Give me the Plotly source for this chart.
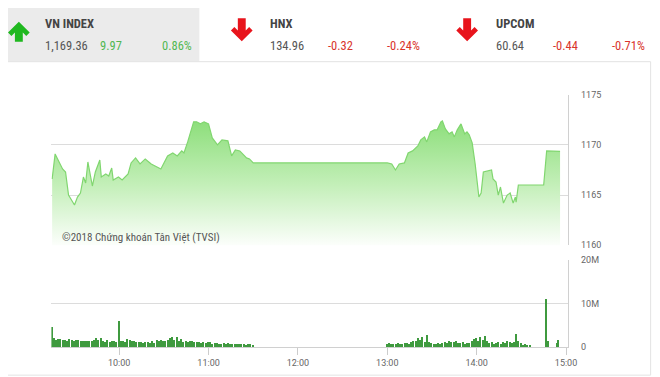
import plotly.graph_objects as go
import pandas as pd

W, H = 660, 377
DAY = "2018-09-20 "

# ---- price (VN-Index intraday) ----
price_times = ["09:15", "09:17", "09:22", "09:24", "09:26", "09:30", "09:32", "09:34", "09:36", "09:37:30",
               "09:39", "09:41", "09:42", "09:44", "09:47", "09:48", "09:51", "09:53", "09:55", "09:56",
               "09:59:30", "10:02", "10:04", "10:06", "10:08", "10:11", "10:14", "10:17:30", "10:21:30", "10:28",
               "10:32:30", "10:36", "10:39", "10:42", "10:43:30", "10:46", "10:50", "10:52", "10:54:30", "10:57",
               "11:00", "11:02:30", "11:06", "11:09", "11:13", "11:15:30", "11:18", "11:21", "11:25:30", "11:27:30",
               "11:30", "13:00", "13:03", "13:05:30", "13:08", "13:11:30", "13:14", "13:17", "13:20:30", "13:22:30",
               "13:25", "13:26:30", "13:29", "13:31:30", "13:33:30", "13:36", "13:37", "13:39", "13:41:30", "13:43:30",
               "13:45", "13:47", "13:49:30", "13:52", "13:53:30", "13:55", "13:57", "13:59", "14:01:30", "14:03",
               "14:04:30", "14:06:30", "14:08", "14:10", "14:11", "14:13", "14:14:30", "14:16", "14:18", "14:20:30",
               "14:22:30", "14:24:30", "14:26", "14:26:30", "14:28", "14:45", "14:47", "14:56"]
price_vals = [1166.6, 1169.1, 1167.6, 1167.3, 1165.0, 1164.0, 1164.8, 1165.2, 1166.8, 1166.2,
              1168.3, 1166.8, 1165.9, 1167.3, 1168.5, 1166.8, 1167.1, 1166.9, 1167.7, 1166.5,
              1166.8, 1166.5, 1166.8, 1167.1, 1168.2, 1168.7, 1168.1, 1168.6, 1168.1, 1167.6,
              1168.9, 1169.2, 1168.9, 1169.4, 1169.2, 1170.3, 1172.3, 1172.3, 1172.1, 1172.3,
              1172.1, 1170.7, 1170.0, 1170.5, 1170.4, 1168.9, 1169.5, 1169.4, 1168.7, 1168.6,
              1168.2, 1168.2, 1168.1, 1167.5, 1168.1, 1168.2, 1169.2, 1169.4, 1169.9, 1170.5,
              1170.8, 1170.3, 1171.3, 1171.5, 1171.5, 1172.3, 1172.4, 1171.6, 1171.1, 1171.3,
              1170.8, 1171.5, 1172.1, 1171.1, 1171.3, 1171.0, 1170.2, 1168.1, 1164.8, 1165.2,
              1167.3, 1167.4, 1167.4, 1167.5, 1166.6, 1166.3, 1165.0, 1165.8, 1164.2, 1165.0,
              1165.2, 1164.2, 1164.8, 1164.3, 1166.0, 1166.0, 1169.4, 1169.36]

# ---- volume (millions of shares), bars every 90 s ----
vol_morning_start = "09:15"
vol_morning = [4.5, 2.0, 1.6, 1.8, 1.7, 1.5, 1.6, 1.4, 1.8, 1.5,
               1.4, 1.6, 1.5, 1.3, 1.4, 1.3, 1.2, 1.3, 1.2, 1.5,
               1.9, 1.6, 2.1, 1.4, 1.1, 1.5, 1.0, 1.2, 1.3, 1.0,
               6.0, 1.2, 1.3, 1.0, 1.8, 1.5, 1.2, 1.4, 1.1, 1.0,
               1.1, 0.9, 1.0, 1.1, 0.8, 1.2, 0.9, 1.5, 1.3, 1.6,
               1.2, 1.3, 1.5, 2.0, 2.2, 1.6, 2.3, 1.3, 1.8, 1.1,
               1.4, 1.0, 1.3, 1.2, 1.0, 1.1, 1.0, 0.9, 1.0, 0.8,
               1.1, 1.0, 0.7, 0.8, 0.9, 0.7, 0.6, 0.8, 0.5, 0.9,
               0.6, 0.7, 0.6, 0.5, 0.7, 0.5, 0.6, 0.4, 0.7, 0.5, 0.4]
vol_afternoon_start = "13:00"
vol_afternoon = [0.5, 0.9, 0.6, 0.7, 0.5, 0.8, 0.7, 0.6, 0.9, 0.8,
                 0.7, 1.0, 1.4, 1.2, 1.9, 1.5, 2.3, 1.1, 2.6, 1.0,
                 0.8, 0.7, 0.6, 0.9, 0.7, 0.8, 1.1, 0.9, 1.2, 1.1,
                 1.0, 1.2, 0.9, 0.8, 1.0, 0.7, 0.9, 0.8, 1.2, 1.8,
                 2.0, 1.4, 2.2, 1.5, 2.5, 1.2, 0.8, 1.0, 0.7, 0.9,
                 1.0, 0.6, 1.1, 0.9, 1.2, 1.0, 0.8, 1.1, 2.9, 1.3,
                 0.9, 0.3, 0.5, 0.3, 0.2]
vol_close_times = ["14:47", "14:48:20", "14:54:10", "14:54:50"]
vol_close = [11.0, 1.2, 0.9, 1.5]

x_ticks = ["10:00", "11:00", "12:00", "13:00", "14:00", "15:00"]
price_ticks = [1160, 1165, 1170, 1175]
vol_ticks = [0, 10, 20]
vol_tick_text = ["0", "10M", "20M"]

header = [
    dict(name="VN INDEX", value="1,169.36", change="9.97", pct="0.86%", up=True),
    dict(name="HNX", value="134.96", change="-0.32", pct="-0.24%", up=False),
    dict(name="UPCOM", value="60.64", change="-0.44", pct="-0.71%", up=False),
]
watermark = "©2018 Chứng khoán Tân Việt (TVSI)"

# ---------------------------------------------------------------
FONT = "Liberation Sans Narrow, Roboto Condensed, Roboto, sans-serif"
TICKFONT = dict(family="Roboto, sans-serif", size=9, color="#666")
OX, OY = 8, 8   # page offset of the figure inside the browser window

def px(x, y):
    return (x - OX) / W, 1 - (y - OY) / H

def fx(x):
    return (x - OX) / W

def fy(y):
    return 1 - (y - OY) / H

def ts(t):
    if len(t) == 5:
        t += ":00"
    return pd.Timestamp(DAY + t)

pt = [ts(t) for t in price_times]
vm_t = pd.date_range(ts(vol_morning_start), periods=len(vol_morning), freq="90s")
va_t = pd.date_range(ts(vol_afternoon_start), periods=len(vol_afternoon), freq="90s")
vc_t = [ts(t) for t in vol_close_times]
vol_x = list(vm_t) + list(va_t) + list(vc_t)
vol_y = [v * 1e6 for v in vol_morning + vol_afternoon + vol_close]

fig = go.Figure()
fig.add_trace(go.Scatter(
    x=pt, y=price_vals, mode="lines", line=dict(color="#80d66f", width=1.2),
    fill="tozeroy",
    fillgradient=dict(type="vertical", start=1160, stop=1172.5,
                      colorscale=[[0, "rgba(255,255,255,1)"], [0.5, "rgb(195,239,184)"], [1, "rgb(140,222,122)"]]),
    xaxis="x", yaxis="y", hoverinfo="skip", showlegend=False))
fig.add_trace(go.Bar(
    x=vol_x, y=vol_y, width=60000, marker=dict(color="#3f9a3f", line=dict(width=0)),
    xaxis="x2", yaxis="y2", showlegend=False))

xr = [DAY + "09:14:30", DAY + "15:01:30"]
dom_x = [fx(52), fx(576)]
tickvals = [ts(t) for t in x_ticks]

fig.update_layout(
    width=W, height=H, margin=dict(l=0, r=0, t=0, b=0),
    paper_bgcolor="white", plot_bgcolor="white", bargap=0,
    xaxis=dict(domain=dom_x, range=xr, type="date", showgrid=False, showticklabels=False,
               zeroline=False, showline=False, ticks="", anchor="y"),
    yaxis=dict(domain=[fy(246.5), fy(92)], range=[1160, 1175], side="right", anchor="x",
               tickvals=price_ticks, showgrid=True, gridcolor="#dcdcdc", gridwidth=1,
               showline=True, linecolor="#d0d0d0", linewidth=1, zeroline=False,
               ticks="outside", ticklen=10, tickcolor="rgba(0,0,0,0)", tickfont=TICKFONT),
    xaxis2=dict(domain=dom_x, range=xr, type="date", showgrid=False, anchor="y2",
                tickvals=tickvals, ticktext=x_ticks, ticks="outside", ticklen=7, tickcolor="#cccccc",
                showline=True, linecolor="#d0d0d0", linewidth=1, zeroline=False, tickfont=TICKFONT),
    yaxis2=dict(domain=[fy(351), fy(262)], range=[0, 20e6], side="right", anchor="x2",
                tickvals=[v * 1e6 for v in vol_ticks], ticktext=vol_tick_text,
                showgrid=True, gridcolor="#dcdcdc", gridwidth=1,
                showline=True, linecolor="#d0d0d0", linewidth=1, zeroline=False,
                ticks="outside", ticklen=10, tickcolor="rgba(0,0,0,0)", tickfont=TICKFONT),
)

shapes = []
shapes.append(dict(type="rect", xref="paper", yref="paper", x0=fx(0), y0=fy(57.5), x1=fx(202), y1=fy(0),
                   fillcolor="#ebebeb", line=dict(width=0), layer="below"))
shapes.append(dict(type="rect", xref="paper", yref="paper", x0=fx(0.5), y0=fy(380), x1=fx(659.5), y1=fy(58),
                   fillcolor="rgba(0,0,0,0)", line=dict(width=1, color="#e3e3e3"), layer="below"))

def arrow(cx, up, color):
    if up:
        pts = [(0, 17), (11, 28), (7.5, 31.5), (4, 28), (4, 37.5), (-4, 37.5), (-4, 28), (-7.5, 31.5), (-11, 28)]
    else:
        pts = [(0, 37), (11, 26), (7.5, 22.5), (4, 26), (4, 13.5), (-4, 13.5), (-4, 26), (-7.5, 22.5), (-11, 26)]
    path = ""
    for i, (dx, y) in enumerate(pts):
        a, b = px(cx + dx, y)
        path += ("M" if i == 0 else "L") + f"{a:.5f},{b:.5f} "
    path += "Z"
    return dict(type="path", xref="paper", yref="paper", path=path, fillcolor=color, line=dict(width=0))

arrow_cx = [19, 245, 473.5]
text_x = [(43, 99, 162), (271.5, 330, 390), (500.5, 559, 618)]
annotations = []
for h, cx, (tx0, tx1, tx2) in zip(header, arrow_cx, text_x):
    shapes.append(arrow(cx, h["up"], "#1fb81f" if h["up"] else "#e8141c"))
    chg_col = "#52b852" if h["up"] else "#d9342b"
    for txt, tx, ty, col, bold in [(h["name"], tx0, 18.5, "#444444", True),
                                   (h["value"], tx0, 41.5, "#555555", False),
                                   (h["change"], tx1, 41.5, chg_col, False),
                                   (h["pct"], tx2, 41.5, chg_col, False)]:
        a, b = px(tx, ty)
        annotations.append(dict(text=f"<b>{txt}</b>" if bold else txt, x=a, y=b, xref="paper", yref="paper",
                                xanchor="left", yanchor="middle", showarrow=False,
                                font=dict(family=FONT, size=12.5, color=col)))

a, b = px(60.5, 238.5)
annotations.append(dict(text=watermark, x=a, y=b, xref="paper", yref="paper", xanchor="left",
                        yanchor="middle", showarrow=False, font=dict(family=FONT, size=11, color="#555555")))

fig.update_layout(shapes=shapes, annotations=annotations)
fig.write_html("out.html")
